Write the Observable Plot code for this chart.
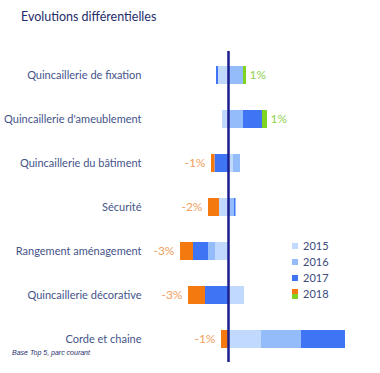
<!DOCTYPE html>
<html><head><meta charset="utf-8">
<script src="https://cdn.jsdelivr.net/npm/d3@7"></script>
<script src="https://cdn.jsdelivr.net/npm/@observablehq/plot@0.6"></script>
<style>
body{margin:0;background:#fff;}
#wrap{position:relative;width:380px;height:373px;overflow:hidden;font-family:Lato,"Liberation Sans",sans-serif;}
#wrap svg{position:absolute;left:0;top:0;}
.title{position:absolute;left:21px;top:9px;font-size:12.5px;color:#1f2d6b;}
.foot{position:absolute;left:12px;top:349px;font-size:7px;font-style:italic;color:#1f2d6b;font-family:"Liberation Sans",sans-serif;}
.leg{position:absolute;left:292px;font-size:11px;color:#3a4a7e;line-height:12px;}
.sw{display:inline-block;width:6px;height:6px;margin-right:5px;vertical-align:1px;}
</style></head>
<body><div id="wrap"></div>
<script>
const categories = ["Quincaillerie de fixation","Quincaillerie d'ameublement","Quincaillerie du bâtiment","Sécurité","Rangement aménagement","Quincaillerie décorative","Corde et chaine"];
const years = ["2015","2016","2017","2018"];
const v2015 = [-2.0, -1.2, 1.0, -1.8, -2.6, 3.2, 6.6];
const v2016 = [3.0, 3.0, 1.4, 1.2, -1.4, 0.0, 8.0];
const v2017 = [-0.4, 3.8, -2.7, 0.3, -3.0, -4.6, 8.8];
const v2018 = [0.6, 1.0, -0.7, -2.2, -2.6, -3.4, -1.4];
const labels2018 = ["1%","1%","-1%","-2%","-3%","-3%","-1%"];
const yearColors = {"2015":"#c0d9fc","2016":"#94bbfa","2017":"#3f74f5"};
const posColor = "#7fd321", negColor = "#f47a10";
const posText = "#8fd150", negText = "#f0a060";

const series = {"2015":v2015,"2016":v2016,"2017":v2017,"2018":v2018};
const rows = [];
categories.forEach((c,i)=>years.forEach(y=>{
  const v = series[y][i];
  rows.push({cat:c, year:y, value:v, color: y==="2018" ? (v<0?negColor:posColor) : yearColors[y]});
}));
const labelRows = categories.map((c,i)=>{
  const vals = years.map(y=>series[y][i]);
  const pos = d3.sum(vals.filter(v=>v>0)), neg = d3.sum(vals.filter(v=>v<0));
  const v = v2018[i];
  return {cat:c, x: v<0?neg:pos, neg: v<0, text: labels2018[i]};
});

const chart = Plot.plot({
  width: 380, height: 373,
  marginLeft: 178, marginRight: 12, marginTop: 51, marginBottom: 11,
  style: {fontFamily: "Lato, 'Liberation Sans', sans-serif", fontSize: "11px", background: "transparent"},
  x: {domain: [-10, 28], axis: null},
  y: {domain: categories, range: [50.7, 362.3], paddingInner: 0.6, paddingOuter: 0.3, label: null, tickSize: 0, tickPadding: 37},
  color: {type: "identity"},
  marks: [
    Plot.axisY({tickSize: 0, tickPadding: 37, fill: "#44548a", fontSize: 11, label: null}),
    Plot.barX(rows, Plot.stackX({y: "cat", x: "value", fill: "color"})),
    Plot.ruleX([0], {stroke: "#1b1d8c", strokeWidth: 2.5}),
    Plot.text(labelRows.filter(d=>!d.neg), {x: "x", y: "cat", text: "text", textAnchor: "start", dx: 3, fill: posText, fontSize: 12}),
    Plot.text(labelRows.filter(d=>d.neg), {x: "x", y: "cat", text: "text", textAnchor: "end", dx: -6, fill: negText, fontSize: 12})
  ]
});
const wrap = document.getElementById("wrap");
wrap.appendChild(chart);
const t = document.createElement("div"); t.className="title"; t.textContent="Evolutions différentielles"; wrap.appendChild(t);
const f = document.createElement("div"); f.className="foot"; f.textContent="Base Top 5, parc courant"; wrap.appendChild(f);
const legTops = [240, 256, 272, 288];
years.forEach((y,i)=>{
  const d = document.createElement("div"); d.className="leg"; d.style.top = legTops[i]+"px";
  if (y==="2018") {
    d.innerHTML = `<span class="sw" style="background:linear-gradient(${negColor} 50%, ${posColor} 50%);height:10px;vertical-align:-1px"></span>${y}`;
  } else {
    d.innerHTML = `<span class="sw" style="background:${yearColors[y]}"></span>${y}`;
  }
  wrap.appendChild(d);
});
</script></body></html>
